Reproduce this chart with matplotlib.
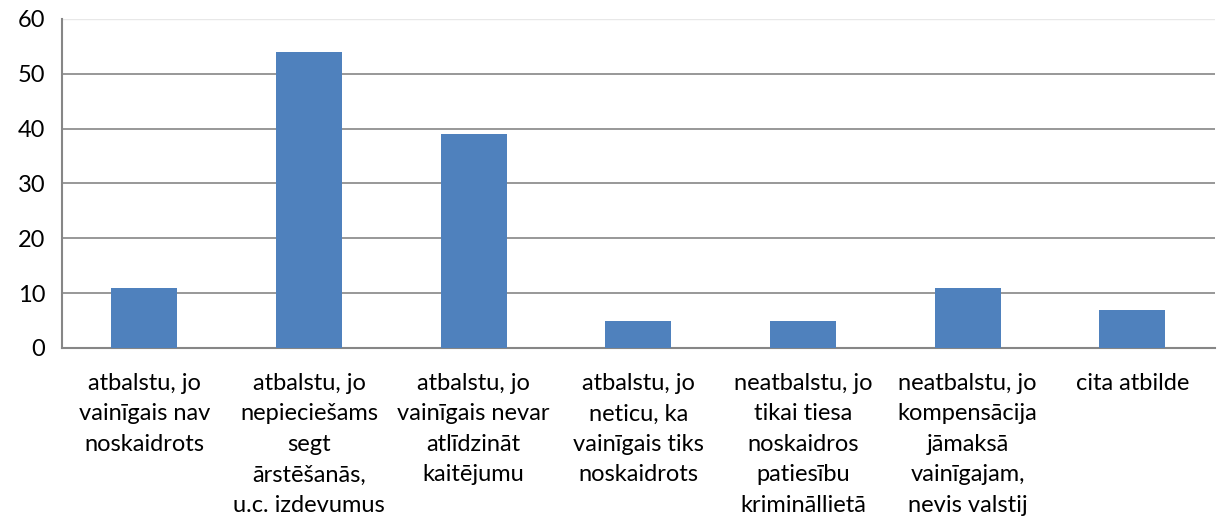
import matplotlib.pyplot as plt

# category labels and counts
categories = [
    "atbalstu, jo\nvainīgais nav\nnoskaidrots",
    "atbalstu, jo\nnepieciešams\nsegt\nārstēšanās,\nu.c. izdevumus",
    "atbalstu, jo\nvainīgais nevar\natlīdzināt\nkaitējumu",
    "atbalstu, jo\nneticu, ka\nvainīgais tiks\nnoskaidrots",
    "neatbalstu, jo\ntikai tiesa\nnoskaidros\npatiesību\nkrimināllietā",
    "neatbalstu, jo\nkompensācija\njāmaksā\nvainīgajam,\nnevis valstij",
    "cita atbilde",
]
values = [11, 54, 39, 5, 5, 11, 7]
yticks = [0, 10, 20, 30, 40, 50, 60]

plt.rcParams['font.family'] = ['Lato', 'DejaVu Sans']

fig = plt.figure(figsize=(12.21, 5.24), dpi=100)
ax = fig.add_axes([0.0508, 0.336, 0.944, 0.628])

x = range(len(values))
ax.bar(x, values, width=0.4, color='#4F81BD', zorder=3)

ax.set_xlim(-0.5, len(values) - 0.5)
ax.set_ylim(0, 60)
ax.set_yticks(yticks)
ax.set_yticklabels([str(t) for t in yticks], fontsize=17)
ax.set_xticks(list(x))
ax.set_xticklabels(categories, fontsize=17, linespacing=1.56, va='top')
ax.tick_params(axis='x', length=0, pad=18)
ax.tick_params(axis='y', length=0, pad=12)

# horizontal gridlines
for t in yticks[1:-1]:
    ax.axhline(t, color='#868686', lw=1.2, zorder=1)
ax.axhline(60, color='#e8e8e8', lw=1, zorder=1)

for s in ['top', 'right']:
    ax.spines[s].set_visible(False)
ax.spines['left'].set_color('#868686')
ax.spines['bottom'].set_color('#868686')
ax.spines['left'].set_linewidth(1.5)
ax.spines['bottom'].set_linewidth(1.5)

fig.savefig('out.png', dpi=100)
